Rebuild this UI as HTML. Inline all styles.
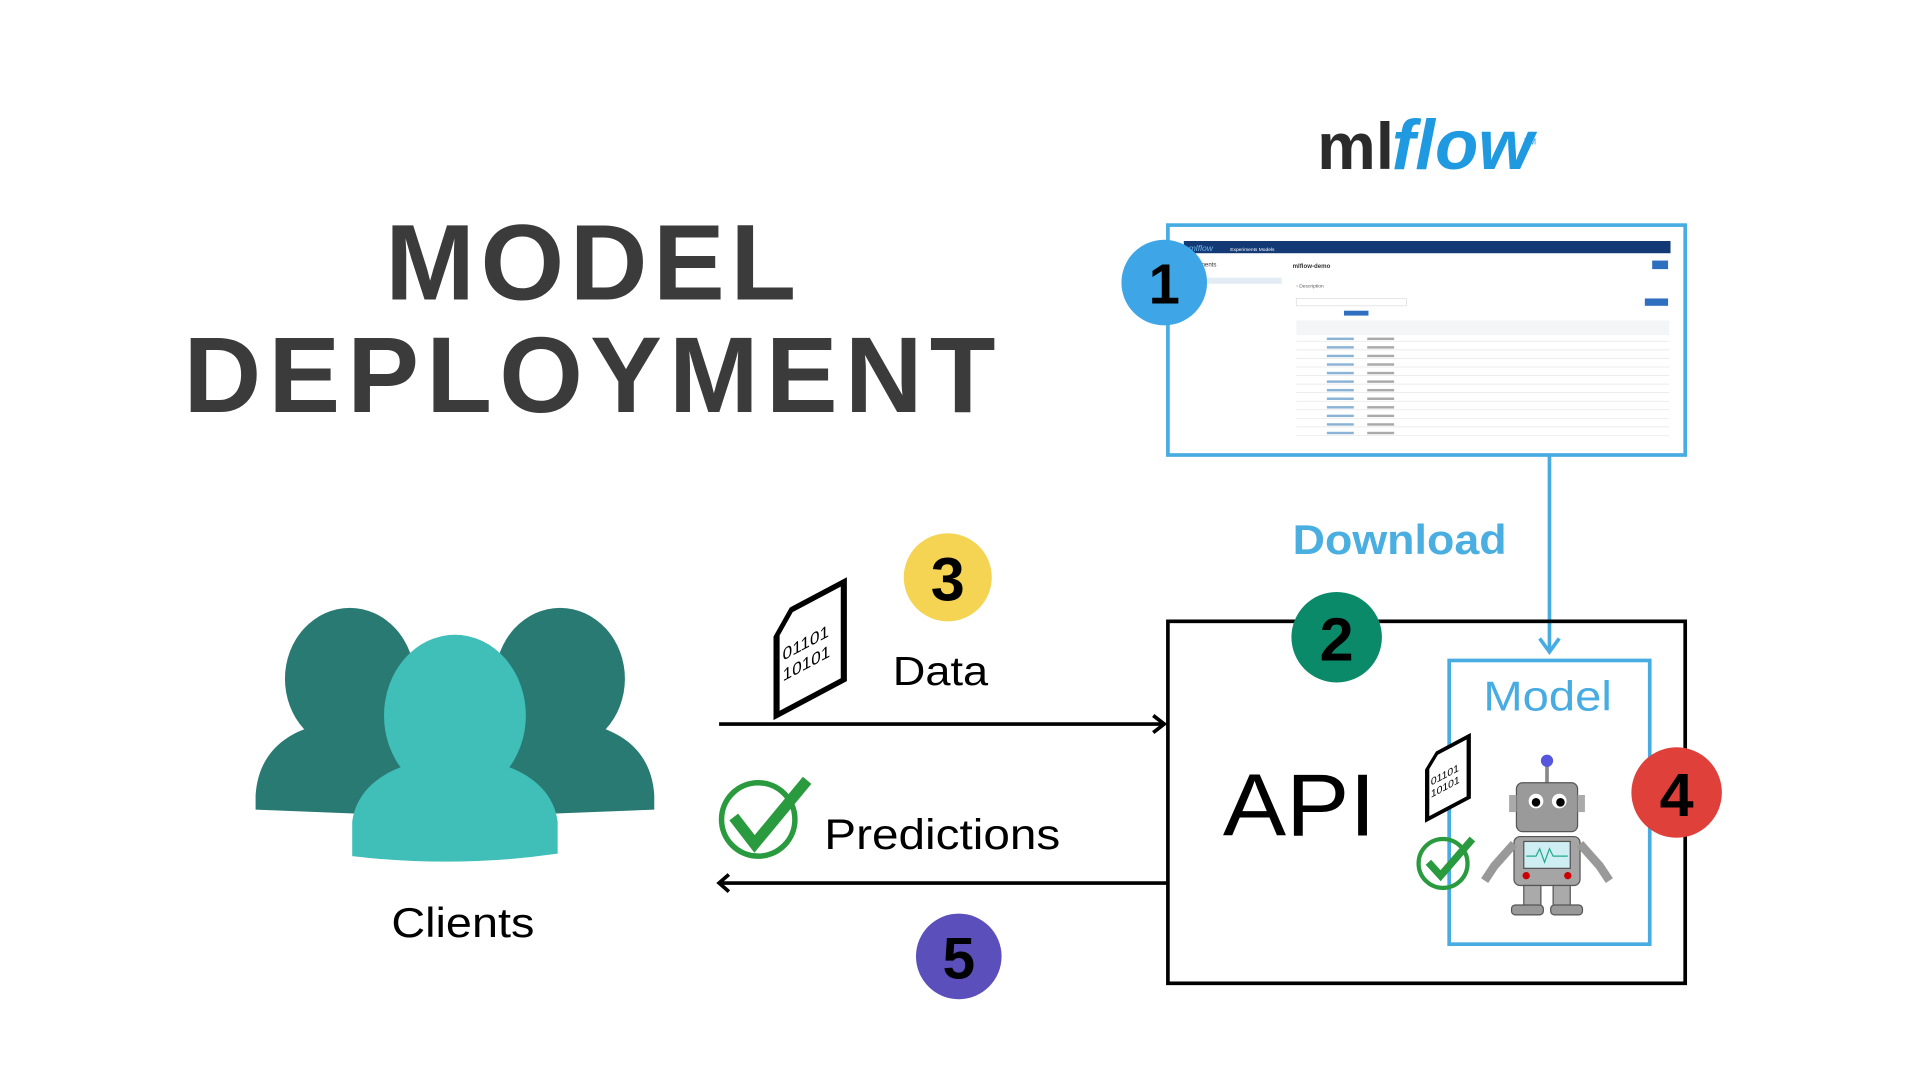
<!DOCTYPE html>
<html><head><meta charset="utf-8"><style>
html,body{margin:0;padding:0;background:#fff;width:1920px;height:1080px;overflow:hidden}
svg{display:block}
text{font-family:"Liberation Sans",sans-serif}
</style></head><body>
<svg width="1920" height="1080" viewBox="0 0 1570 883" xmlns="http://www.w3.org/2000/svg">
<rect width="1570" height="883" fill="#fff"/>
<!-- Title -->
<text x="315" y="245" font-size="88" font-weight="bold" fill="#3b3b3b" textLength="336" lengthAdjust="spacing">MODEL</text>
<text x="150" y="337" font-size="88" font-weight="bold" fill="#3b3b3b" textLength="664" lengthAdjust="spacing">DEPLOYMENT</text>
<!-- mlflow logo -->
<text x="1077" y="138" font-size="54" font-weight="bold" fill="#2b2b2b">ml</text>
<text x="1138" y="138" font-size="58" font-weight="bold" font-style="italic" fill="#1f9ae0">flow</text>
<text x="1246" y="118" font-size="7" fill="#1f9ae0">TM</text>
<!-- screenshot box -->
<rect x="955" y="184" width="423" height="188" fill="#fff" stroke="#47ace2" stroke-width="3"/>
<rect x="968" y="197" width="398" height="10" fill="#143a75"/>
<text x="972" y="205" font-size="7" fill="#6fb6ea" font-style="italic">mlflow</text>
<text x="1006" y="205" font-size="4" fill="#fff">Experiments   Models</text>
<text x="980" y="218" font-size="5" fill="#333">iments</text>
<rect x="972" y="227" width="76" height="5" fill="#e3ecf5"/>
<text x="1057" y="219" font-size="5" font-weight="bold" fill="#333">mlflow-demo</text>
<rect x="1351" y="213" width="13" height="7" fill="#2e6fc0"/>
<text x="1060" y="235" font-size="4" fill="#555">› Description</text>
<rect x="1060" y="244" width="90" height="6" fill="none" stroke="#ddd" stroke-width="0.6"/>
<rect x="1345" y="244" width="19" height="6" fill="#2e6fc0"/>
<rect x="1099" y="254" width="20" height="4" fill="#2e6fc0"/>
<rect x="1060" y="262" width="305" height="12" fill="#f3f5f7"/>
<g stroke="#e6e6e6" stroke-width="0.6">
<line x1="1060" y1="279" x2="1365" y2="279"/><line x1="1060" y1="286" x2="1365" y2="286"/><line x1="1060" y1="293" x2="1365" y2="293"/><line x1="1060" y1="300" x2="1365" y2="300"/><line x1="1060" y1="307" x2="1365" y2="307"/><line x1="1060" y1="314" x2="1365" y2="314"/><line x1="1060" y1="321" x2="1365" y2="321"/><line x1="1060" y1="328" x2="1365" y2="328"/><line x1="1060" y1="335" x2="1365" y2="335"/><line x1="1060" y1="342" x2="1365" y2="342"/><line x1="1060" y1="349" x2="1365" y2="349"/><line x1="1060" y1="356" x2="1365" y2="356"/>
</g>
<g fill="#8ab3d6">
<rect x="1085" y="276" width="22" height="2"/><rect x="1085" y="283" width="22" height="2"/><rect x="1085" y="290" width="22" height="2"/><rect x="1085" y="297" width="22" height="2"/><rect x="1085" y="304" width="22" height="2"/><rect x="1085" y="311" width="22" height="2"/><rect x="1085" y="318" width="22" height="2"/><rect x="1085" y="325" width="22" height="2"/><rect x="1085" y="332" width="22" height="2"/><rect x="1085" y="339" width="22" height="2"/><rect x="1085" y="346" width="22" height="2"/><rect x="1085" y="353" width="22" height="2"/>
</g>
<g fill="#aaa">
<rect x="1118" y="276" width="22" height="2"/><rect x="1118" y="283" width="22" height="2"/><rect x="1118" y="290" width="22" height="2"/><rect x="1118" y="297" width="22" height="2"/><rect x="1118" y="304" width="22" height="2"/><rect x="1118" y="311" width="22" height="2"/><rect x="1118" y="318" width="22" height="2"/><rect x="1118" y="325" width="22" height="2"/><rect x="1118" y="332" width="22" height="2"/><rect x="1118" y="339" width="22" height="2"/><rect x="1118" y="346" width="22" height="2"/><rect x="1118" y="353" width="22" height="2"/>
</g>
<circle cx="952" cy="231" r="35" fill="#3ea6e6"/>
<text x="952" y="248" text-anchor="middle" font-size="46" font-weight="bold" fill="#000">1</text>
<!-- download connector -->
<line x1="1267" y1="372" x2="1267" y2="533" stroke="#47ace2" stroke-width="3"/>
<polyline points="1259,522 1267,533 1275,522" fill="none" stroke="#47ace2" stroke-width="3"/>
<text x="1057" y="453" font-size="34" font-weight="bold" fill="#4aaee0" textLength="175" lengthAdjust="spacingAndGlyphs">Download</text>
<!-- API box -->
<rect x="955" y="508" width="423" height="296" fill="none" stroke="#000" stroke-width="3"/>
<text x="1000" y="683" font-size="72" fill="#000" textLength="125" lengthAdjust="spacingAndGlyphs">API</text>
<rect x="1185" y="540" width="164" height="232" fill="none" stroke="#47ace2" stroke-width="3"/>
<text x="1213" y="581" font-size="34" fill="#47ace2" textLength="105" lengthAdjust="spacingAndGlyphs">Model</text>
<circle cx="1093" cy="521" r="37" fill="#0b8a69"/>
<text x="1093" y="540" text-anchor="middle" font-size="50" font-weight="bold" fill="#000">2</text>
<circle cx="1371" cy="648" r="37" fill="#e0403a"/>
<text x="1371" y="667" text-anchor="middle" font-size="50" font-weight="bold" fill="#000">4</text>
<!-- small doc in API -->
<g transform="translate(1167,620) skewY(-28)">
<path d="M8,0 L34,0 L34,50 L0,50 L0,9 Z" fill="#fff" stroke="#000" stroke-width="3.5"/>
<text x="3" y="24" font-size="8.5" font-family="Liberation Mono" fill="#000">01101</text>
<text x="3" y="34" font-size="8.5" font-family="Liberation Mono" fill="#000">10101</text>
</g>
<circle cx="1180" cy="706" r="20" fill="none" stroke="#2a9a3e" stroke-width="3.5"/>
<path d="M1168,705 L1178,716 L1204,686" fill="none" stroke="#2a9a3e" stroke-width="6"/>
<!-- robot -->
<g>
<line x1="1265" y1="625" x2="1265" y2="640" stroke="#888" stroke-width="3"/>
<circle cx="1265" cy="622" r="5" fill="#5555dd"/>
<rect x="1240" y="640" width="50" height="40" rx="5" fill="#9a9a9a" stroke="#555"/>
<rect x="1234" y="650" width="6" height="14" fill="#aaa"/><rect x="1290" y="650" width="6" height="14" fill="#aaa"/>
<circle cx="1256" cy="655" r="6" fill="#fff"/><circle cx="1275" cy="655" r="6" fill="#fff"/>
<circle cx="1256" cy="656" r="3.5" fill="#000"/><circle cx="1276" cy="656" r="3.5" fill="#000"/>
<rect x="1238" y="684" width="54" height="40" rx="5" fill="#a5a5a5" stroke="#555"/>
<rect x="1246" y="688" width="38" height="22" fill="#cfeef3" stroke="#555"/>
<polyline points="1248,700 1256,700 1259,694 1263,705 1267,694 1270,700 1282,700" fill="none" stroke="#2a8" stroke-width="1"/>
<circle cx="1248" cy="716" r="3" fill="#c00"/><circle cx="1282" cy="716" r="3" fill="#c00"/>
<path d="M1238,690 L1222,708 L1214,720" fill="none" stroke="#999" stroke-width="7"/>
<path d="M1292,690 L1308,708 L1316,720" fill="none" stroke="#999" stroke-width="7"/>
<rect x="1246" y="724" width="14" height="18" fill="#aaa" stroke="#555"/>
<rect x="1270" y="724" width="14" height="18" fill="#aaa" stroke="#555"/>
<rect x="1236" y="740" width="26" height="8" rx="3" fill="#999" stroke="#555"/>
<rect x="1268" y="740" width="26" height="8" rx="3" fill="#999" stroke="#555"/>
</g>
<!-- arrows -->
<line x1="588" y1="592" x2="951" y2="592" stroke="#000" stroke-width="3"/>
<polyline points="943,585 952,592 943,599" fill="none" stroke="#000" stroke-width="3"/>
<line x1="955" y1="722" x2="589" y2="722" stroke="#000" stroke-width="3"/>
<polyline points="596,715 588,722 596,729" fill="none" stroke="#000" stroke-width="3"/>
<g transform="translate(635,505) skewY(-28)">
<path d="M12,0 L55,0 L55,80 L0,80 L0,15 Z" fill="#fff" stroke="#000" stroke-width="5"/>
<text x="5" y="38" font-size="14" font-family="Liberation Mono" fill="#000">01101</text>
<text x="5" y="55" font-size="14" font-family="Liberation Mono" fill="#000">10101</text>
</g>
<circle cx="775" cy="472" r="36" fill="#f5d453"/>
<text x="775" y="491" text-anchor="middle" font-size="50" font-weight="bold" fill="#000">3</text>
<text x="730" y="560" font-size="33" fill="#000" textLength="78" lengthAdjust="spacingAndGlyphs">Data</text>
<circle cx="620" cy="670" r="30" fill="none" stroke="#2a9a3e" stroke-width="4.5"/>
<path d="M600,668 L617,690 L660,638" fill="none" stroke="#2a9a3e" stroke-width="9"/>
<text x="674" y="694" font-size="35" fill="#000" textLength="193" lengthAdjust="spacingAndGlyphs">Predictions</text>
<circle cx="784" cy="782" r="35" fill="#5a4fbb"/>
<text x="784" y="800" text-anchor="middle" font-size="48" font-weight="bold" fill="#000">5</text>
<!-- clients -->
<g fill="#2a7a74">
<ellipse cx="286" cy="555" rx="53" ry="58"/>
<path d="M209,662 L209,650 C212,605 250,590 286,590 C322,590 360,605 363,650 L363,668 Z"/>
<ellipse cx="458" cy="555" rx="53" ry="58"/>
<path d="M381,668 L381,650 C384,605 422,590 458,590 C494,590 532,605 535,650 L535,662 Z"/>
</g>
<g fill="#40beb8">
<path d="M288,700 L288,672 C292,640 325,620 372,620 C419,620 452,640 456,672 L456,698 Q372,710 288,700 Z"/>
<ellipse cx="372" cy="585" rx="58" ry="66"/>
</g>
<text x="320" y="766" font-size="34" fill="#000" textLength="117" lengthAdjust="spacingAndGlyphs">Clients</text>
</svg>
</body></html>
